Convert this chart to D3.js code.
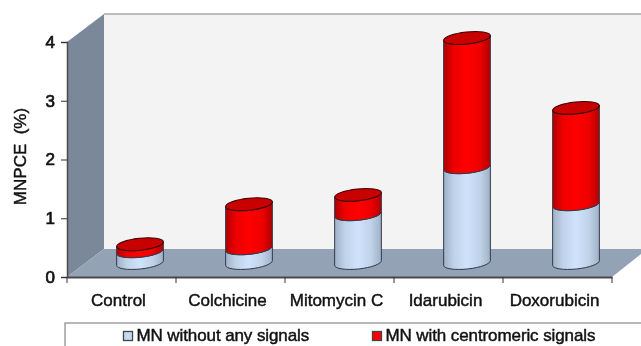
<!DOCTYPE html>
<html>
<head>
<meta charset="utf-8">
<script src="https://cdn.jsdelivr.net/npm/d3@7"></script>
<style>
    html, body { margin: 0; padding: 0; background: #fff; overflow: hidden; }
    svg { display: block; filter: blur(0.5px); }
    text { font-family: "Liberation Sans", Arial, sans-serif; fill: #111; stroke: #111; stroke-width: 0.45px; white-space: pre; }
    .axis path.domain { stroke: #4a4a4a; stroke-width: 2; }
    .axis .tick line { stroke: #333; }
</style>
</head>
<body>
<div id="chart"></div>
<script>
const categories = ['Control', 'Colchicine', 'Mitomycin C', 'Idarubicin', 'Doxorubicin'];
const seriesNames = ['MN without any signals', 'MN with centromeric signals'];
const withoutSignals = [0.2, 0.25, 0.83, 1.63, 1.0];
const withSignals = [0.12, 0.75, 0.33, 2.2, 1.64];
const yTicks = [0, 1, 2, 3, 4];

const width = 641;
const height = 346;
const depth = {x: 37, y: 28};
const radius = {x: 23.5, y: 6};
const tilt = -6;

const x = d3.scaleBand().domain(categories).range([67, 612]);
const y = d3.scaleLinear().domain([0, 4]).range([277, 42]);

const svg = d3.select('#chart').append('svg')
    .attr('width', width)
    .attr('height', height);

const defs = svg.append('defs');

function addGradient(id, edge, mid, centre) {
    const gradient = defs.append('linearGradient').attr('id', id);
    gradient.append('stop').attr('offset', '0%').attr('stop-color', edge);
    gradient.append('stop').attr('offset', '22%').attr('stop-color', mid);
    gradient.append('stop').attr('offset', '50%').attr('stop-color', centre);
    gradient.append('stop').attr('offset', '78%').attr('stop-color', mid);
    gradient.append('stop').attr('offset', '100%').attr('stop-color', edge);
}

addGradient('blue-body', '#9fb1c7', '#c0d2e8', '#cfe3fd');
addGradient('red-body', '#b00000', '#ee0000', '#ff0000');

// 3d box behind the bars
const x0 = x.range()[0];
const x1 = x.range()[1];
const y0 = y(0);
const y4 = y(4);

svg.append('polygon')
    .attr('points', [[x0 + depth.x, y4 - depth.y], [width, y4 - depth.y], [width, y0 - depth.y], [x0 + depth.x, y0 - depth.y]].join(' '))
    .attr('fill', '#f3f3f3');

svg.append('line')
    .attr('x1', x0 + depth.x).attr('x2', width)
    .attr('y1', y4 - depth.y).attr('y2', y4 - depth.y)
    .attr('stroke', '#a8a8a8')
    .attr('stroke-width', 1.5);

svg.append('polygon')
    .attr('points', [[x0, y4], [x0 + depth.x, y4 - depth.y], [x0 + depth.x, y0 - depth.y], [x0, y0]].join(' '))
    .attr('fill', '#7b8899');

svg.append('polygon')
    .attr('points', [[x0, y0], [x0 + depth.x, y0 - depth.y], [width, y0 - depth.y], [width, y0 - 23], [x1, y0]].join(' '))
    .attr('fill', '#94a2b6');

// axes
const yAxis = d3.axisLeft(y).tickValues(yTicks).tickSize(6).tickPadding(6).tickFormat(d3.format('d'));
const gy = svg.append('g')
    .attr('class', 'axis')
    .attr('transform', 'translate(' + x0 + ',0)')
    .call(yAxis);
gy.selectAll('text')
    .style('font-size', '17px')
    .style('stroke-width', '0.7px');
gy.select('path.domain').style('stroke-width', 1.5);

const xAxis = d3.axisBottom(x).tickSize(0).tickPadding(17);
const gx = svg.append('g')
    .attr('class', 'axis')
    .attr('transform', 'translate(0,' + y0 + ')')
    .call(xAxis);
gx.selectAll('text')
    .style('font-size', '17px')
    .attr('dx', -3);

// ticks sit between the categories, not under them
gx.selectAll('line.edge')
    .data(categories.map(c => x(c)).concat([x1]))
    .enter().append('line')
    .attr('class', 'edge')
    .attr('x1', d => d).attr('x2', d => d)
    .attr('y1', 0).attr('y2', 6)
    .attr('stroke', '#333');

svg.append('text')
    .attr('transform', 'translate(26,156.5) rotate(-90)')
    .attr('text-anchor', 'middle')
    .style('font-size', '17px')
    .text('MNPCE  (%)');

// cylinders, stacked
const rows = categories.map((c, i) => ({category: c, a: withoutSignals[i], b: withSignals[i]}));
const stacked = d3.stack().keys(['a', 'b'])(rows);

const rad = tilt * Math.PI / 180;
const dx = radius.x * Math.cos(rad);
const dy = radius.x * Math.sin(rad);

function centerX(d) {
    return x(d.data.category) + x.bandwidth() / 2 + depth.x / 2;
}

function centerY(value) {
    return y(value) - depth.y / 2;
}

function bodyPath(d) {
    const cx = centerX(d);
    const bottom = centerY(d[0]);
    const top = centerY(d[1]);
    const arc = 'A' + radius.x + ',' + radius.y + ' ' + tilt + ' 0 ';
    return 'M' + (cx - dx) + ',' + (top - dy)
        + arc + '0 ' + (cx + dx) + ',' + (top + dy)
        + 'L' + (cx + dx) + ',' + (bottom + dy)
        + arc + '1 ' + (cx - dx) + ',' + (bottom - dy)
        + 'Z';
}

svg.selectAll('g.series')
    .data(stacked)
    .enter().append('g')
    .attr('class', 'series')
    .selectAll('path')
    .data(d => d)
    .enter().append('path')
    .attr('d', bodyPath)
    .attr('fill', function() {
        return d3.select(this.parentNode).datum().key === 'a' ? 'url(#blue-body)' : 'url(#red-body)';
    })
    .attr('stroke', '#33394a')
    .attr('stroke-width', 1);

svg.append('g')
    .selectAll('ellipse')
    .data(stacked[1])
    .enter().append('ellipse')
    .attr('cx', centerX)
    .attr('cy', d => centerY(d[1]))
    .attr('rx', radius.x)
    .attr('ry', radius.y)
    .attr('transform', d => 'rotate(' + tilt + ' ' + centerX(d) + ' ' + centerY(d[1]) + ')')
    .attr('fill', '#c80000')
    .attr('stroke', '#3a0000')
    .attr('stroke-width', 1);

// legend
svg.append('rect')
    .attr('x', 65).attr('y', 323)
    .attr('width', 600).attr('height', 40)
    .attr('fill', '#fff')
    .attr('stroke', '#888')
    .attr('stroke-width', 1.2);

const legendX = [123.5, 372.5];
const legend = svg.selectAll('g.legend')
    .data(seriesNames)
    .enter().append('g')
    .attr('class', 'legend')
    .attr('transform', (d, i) => 'translate(' + legendX[i] + ',331.5)');

legend.append('rect')
    .attr('width', 9).attr('height', 9)
    .attr('fill', (d, i) => i === 0 ? '#c6d9f1' : '#ff0000')
    .attr('stroke', '#444')
    .attr('stroke-width', 1.3);

legend.append('text')
    .attr('x', 13).attr('y', 9.5)
    .style('font-size', '17px')
    .style('letter-spacing', '-0.1px')
    .text(d => d);
</script>
</body>
</html>
